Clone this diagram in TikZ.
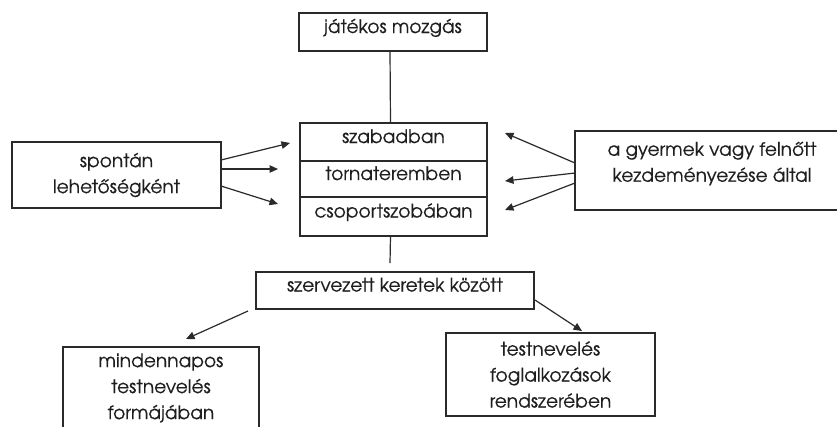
\documentclass[tikz,border=0pt]{standalone}
\usepackage{fontspec}
\setmainfont{texgyreadventor-regular}[Extension=.otf,FakeBold=0.35]
\usetikzlibrary{arrows.meta,calc}
\definecolor{ink}{HTML}{1E1E1E}
\definecolor{rule}{HTML}{2A2A2A}
\begin{document}
\begin{tikzpicture}[x=1pt,y=-1pt,
  box/.style={draw=rule,line width=1.2pt,rectangle,inner sep=0pt,outer sep=0pt},
  txt/.style={text=ink,font=\fontsize{18.6}{26}\selectfont,align=center,inner sep=0pt},
  oneline/.style={text height=10pt,text depth=8pt},
  link/.style={draw=rule,line width=1.2pt},
  arr/.style={link,-{Triangle[length=8.5pt,width=7.5pt]}}]
\clip (0,0) rectangle (837,426);
\fill[white] (0,0) rectangle (837,426);

% top box
\node[box,txt,oneline,minimum width=188pt,minimum height=38pt] (top) at (393,32) {játékos mozgás};

% three stacked places
\node[box,txt,oneline,minimum width=187pt,minimum height=38pt] (s1) at (393.5,142) {szabadban};
\node[box,txt,oneline,minimum width=187pt,minimum height=36pt] (s2) at (393.5,179) {tornateremben};
\node[box,txt,oneline,minimum width=187pt,minimum height=39pt] (s3) at (393.5,216.5) {csoportszobában};

% side boxes
\node[box,txt,minimum width=209pt,minimum height=66pt] (left) at (116.5,175) {spontán\\lehetőségként};
\node[box,minimum width=274pt,minimum height=79pt] (right) at (712,170.5) {};
\node[txt] (righttext) at (712,163.5) {a gyermek vagy felnőtt\\kezdeményezése által};

% organised frame
\node[box,txt,oneline,minimum width=278pt,minimum height=37pt] (org) at (395,290.5) {szervezett keretek között};

% bottom boxes
\node[box,minimum width=196pt,minimum height=86pt] (daily) at (161,390) {};
\node[txt] (dailytext) at (161,388) {mindennapos\\testnevelés\\formájában};
\node[box,txt,minimum width=209pt,minimum height=83pt] (pe) at (550.5,374.5) {testnevelés\\foglalkozások\\rendszerében};

% vertical links
\draw[link] ($(top.south)+(-3,0)$) -- ($(s1.north)+(-3,0)$);
\coordinate (gapend) at (390,263);
\draw[link] ($(s3.south)+(-3,0)$) -- (gapend);

% arrows from the left box
\coordinate (l1) at (290,143);
\coordinate (l2) at (278,169);
\coordinate (l3) at (278,204);
\draw[arr] (left.east |- 0,160) -- (l1);
\draw[arr] (left.east |- 0,169) -- (l2);
\draw[arr] (left.east |- 0,186) -- (l3);

% arrows from the right box
\coordinate (r1) at (505,133);
\coordinate (r2) at (505,181);
\coordinate (r3) at (505,210);
\draw[arr] (right.west |- 0,163) -- (r1);
\draw[arr] (right.west |- 0,173) -- (r2);
\draw[arr] (right.west |- 0,183) -- (r3);

% arrows down from the organised frame
\coordinate (o1) at (248,311);
\coordinate (d1) at (186,339);
\draw[arr] (o1) -- (d1);
\coordinate (o2) at (535,300);
\coordinate (d2) at (582,331);
\draw[arr] (o2) -- (d2);
\end{tikzpicture}
\end{document}
